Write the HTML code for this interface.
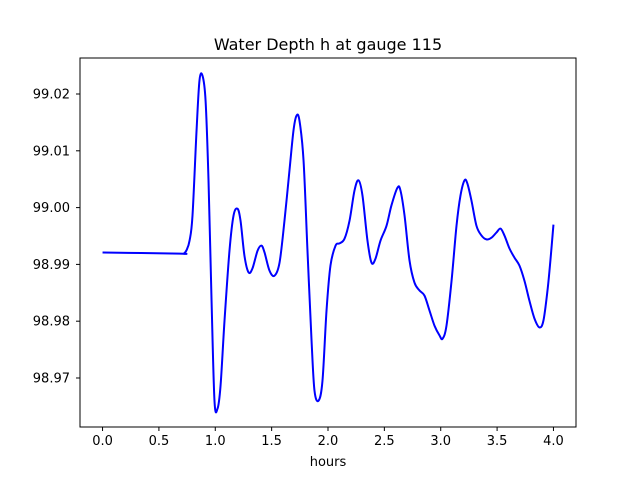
<!DOCTYPE html>
<html><head><meta charset="utf-8"><style>
body{margin:0;background:#fff;}
svg text{font-family:"DejaVu Sans","Liberation Sans",sans-serif;font-size:13px;fill:#000;}
</style></head><body>
<svg id="chart" width="640" height="480">
<rect width="640" height="480" fill="#fff"/>
<text x="328" y="50" text-anchor="middle" style="font-size:16px">Water Depth h at gauge 115</text>
<g id="ticks"></g>
<path id="line" fill="none" stroke="#0000ff" stroke-width="2" stroke-linejoin="round"/>
<rect x="80" y="58" width="496" height="369" fill="none" stroke="#000" stroke-width="1"/>
<text x="328" y="466" text-anchor="middle">hours</text>
</svg>
<script>
const hours=[0,0.683,0.72,0.745,0.772,0.798,0.834,0.860,0.887,0.914,0.940,0.967,0.993,1.020,1.047,1.082,1.126,1.162,1.197,1.224,1.259,1.295,1.330,1.375,1.410,1.437,1.481,1.525,1.570,1.614,1.658,1.694,1.721,1.747,1.783,1.818,1.854,1.880,1.916,1.951,1.987,2.022,2.067,2.102,2.146,2.191,2.235,2.271,2.306,2.350,2.386,2.421,2.466,2.519,2.563,2.616,2.643,2.679,2.723,2.767,2.812,2.856,2.900,2.945,2.989,3.016,3.051,3.096,3.140,3.175,3.211,3.237,3.273,3.317,3.361,3.406,3.450,3.494,3.530,3.565,3.610,3.654,3.698,3.743,3.787,3.831,3.876,3.911,3.947,3.973,4.0];
const depth=[98.9921,98.9919,98.9919,98.9925,98.9942,98.9986,99.0136,99.0224,99.0232,99.0188,99.0048,98.9836,98.9660,98.9646,98.9687,98.9801,98.9924,98.9986,98.9998,98.9977,98.9915,98.9886,98.9893,98.9924,98.9933,98.9921,98.9889,98.9880,98.9903,98.9977,99.0065,99.0136,99.0162,99.0153,99.0083,98.9924,98.9766,98.9678,98.9660,98.9695,98.9819,98.9898,98.9933,98.9937,98.9945,98.9977,99.0030,99.0048,99.0021,98.9942,98.9903,98.9910,98.9942,98.9968,99.0004,99.0035,99.0030,98.9986,98.9907,98.9868,98.9854,98.9845,98.9819,98.9792,98.9775,98.9769,98.9792,98.9871,98.9968,99.0021,99.0048,99.0042,99.0012,98.9968,98.9951,98.9944,98.9947,98.9956,98.9963,98.9951,98.9928,98.9912,98.9898,98.9871,98.9836,98.9805,98.9789,98.9801,98.9854,98.9907,98.9970];
const xTicks=[0,0.5,1,1.5,2,2.5,3,3.5,4];
const xTickLabels=["0.0","0.5","1.0","1.5","2.0","2.5","3.0","3.5","4.0"];
const yTicks=[98.97,98.98,98.99,99.00,99.01,99.02];
const yTickLabels=["98.97","98.98","98.99","99.00","99.01","99.02"];
const X=t=>80+(t+0.2)/4.4*496;
const Y=v=>427-(v-98.96137)/(99.02634-98.96137)*369;
const NS="http://www.w3.org/2000/svg";
const g=document.getElementById('ticks');
xTicks.forEach((t,i)=>{
 const l=document.createElementNS(NS,'line');
 l.setAttribute('x1',X(t));l.setAttribute('x2',X(t));l.setAttribute('y1',427);l.setAttribute('y2',431);l.setAttribute('stroke','#000');
 
 
 g.appendChild(l);
 const tx=document.createElementNS(NS,'text');
 tx.setAttribute('x',X(t));tx.setAttribute('y',445);tx.setAttribute('text-anchor','middle');tx.textContent=xTickLabels[i];
 
 
 g.appendChild(tx);
});
yTicks.forEach((v,i)=>{
 const l=document.createElementNS(NS,'line');
 l.setAttribute('x1',76);l.setAttribute('x2',80);l.setAttribute('y1',Y(v));l.setAttribute('y2',Y(v));l.setAttribute('stroke','#000');
 
 
 g.appendChild(l);
 const tx=document.createElementNS(NS,'text');
 tx.setAttribute('x',70);tx.setAttribute('y',Y(v)+4.5);tx.setAttribute('text-anchor','end');tx.textContent=yTickLabels[i];
 
 
 g.appendChild(tx);
});
const pts=hours.map((t,i)=>[X(t),Y(depth[i])]);
let d='M'+pts[0][0]+','+pts[0][1];
for(let i=0;i<pts.length-1;i++){
 const p0=pts[Math.max(0,i-1)],p1=pts[i],p2=pts[i+1],p3=pts[Math.min(pts.length-1,i+2)];
 const c1=[p1[0]+(p2[0]-p0[0])/6,p1[1]+(p2[1]-p0[1])/6];
 const c2=[p2[0]-(p3[0]-p1[0])/6,p2[1]-(p3[1]-p1[1])/6];
 d+=' C'+c1+' '+c2+' '+p2;
}
document.getElementById('line').setAttribute('d',d);
</script>
</body></html>
